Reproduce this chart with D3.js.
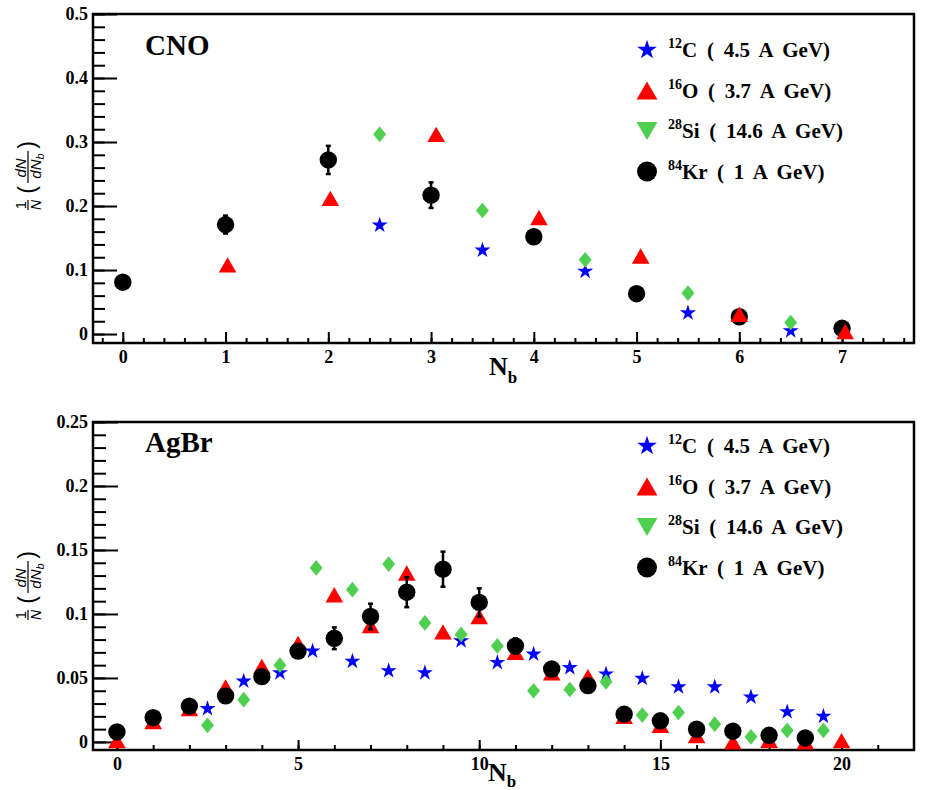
<!DOCTYPE html>
<html><head><meta charset="utf-8">
<script src="https://cdn.jsdelivr.net/npm/d3@7"></script>
<style>body{margin:0;background:#fff}</style>
</head><body><svg id="c" width="930" height="790"></svg>
<script>
// ---------- data ----------
const legendIso = ["12", "16", "28", "84"];
const legendText = ["C ( 4.5 A GeV)", "O ( 3.7 A GeV)", "Si ( 14.6 A GeV)", "Kr ( 1 A GeV)"];
const panelNames = ["CNO", "AgBr"];

// CNO panel
const cnoXTicks = [0, 1, 2, 3, 4, 5, 6, 7];
const cnoXTickLabels = ["0", "1", "2", "3", "4", "5", "6", "7"];
const cnoYTicks = [0, 0.1, 0.2, 0.3, 0.4, 0.5];
const cnoYTickLabels = ["0", "0.1", "0.2", "0.3", "0.4", "0.5"];

const cnoC_x = [2.5, 3.5, 4.5, 5.5, 6.5];
const cnoC_y = [0.170, 0.131, 0.098, 0.033, 0.005];
const cnoO_x = [1.02, 2.02, 3.05, 4.05, 5.04, 6.0, 7.03];
const cnoO_y = [0.108, 0.212, 0.312, 0.182, 0.122, 0.031, 0.004];
const cnoSi_x = [2.5, 3.5, 4.5, 5.5, 6.5];
const cnoSi_y = [0.312, 0.193, 0.116, 0.064, 0.018];
const cnoKr_x = [0, 1, 2, 3, 4, 5, 6, 7];
const cnoKr_y = [0.081, 0.171, 0.272, 0.217, 0.152, 0.063, 0.027, 0.009];
const cnoKr_err = [0.005, 0.014, 0.022, 0.020, 0.010, 0.005, 0.005, 0.003];

// AgBr panel
const agbrXTicks = [0, 5, 10, 15, 20];
const agbrXTickLabels = ["0", "5", "10", "15", "20"];
const agbrYTicks = [0, 0.05, 0.1, 0.15, 0.2, 0.25];
const agbrYTickLabels = ["0", "0.05", "0.1", "0.15", "0.2", "0.25"];

const agbrC_x = [2.5, 3.5, 4.5, 5.4, 6.5, 7.5, 8.5, 9.5, 10.5, 11.5, 12.5, 13.5, 14.5, 15.5, 16.5, 17.5, 18.5, 19.5];
const agbrC_y = [0.026, 0.0475, 0.054, 0.071, 0.063, 0.0556, 0.054, 0.079, 0.062, 0.0686, 0.058, 0.053, 0.0496, 0.043, 0.043, 0.035, 0.0235, 0.020];
const agbrO_x = [0, 1, 2, 3, 4, 5, 6, 7, 8, 9, 10, 11, 12, 13, 14, 15, 16, 17, 18, 19, 20];
const agbrO_y = [0.001, 0.016, 0.026, 0.043, 0.059, 0.077, 0.115, 0.091, 0.132, 0.086, 0.098, 0.070, 0.054, 0.051, 0.020, 0.013, 0.005, 0.0, 0.0013, 0.0, 0.001];
const agbrSi_x = [2.5, 3.5, 4.5, 5.5, 6.5, 7.5, 8.5, 9.5, 10.5, 11.5, 12.5, 13.5, 14.5, 15.5, 16.5, 17.5, 18.5, 19.5];
const agbrSi_y = [0.013, 0.033, 0.060, 0.136, 0.119, 0.139, 0.093, 0.084, 0.075, 0.040, 0.041, 0.047, 0.021, 0.023, 0.0139, 0.004, 0.009, 0.009];
const agbrKr_x = [0, 1, 2, 3, 4, 5, 6, 7, 8, 9, 10, 11, 12, 13, 14, 15, 16, 17, 18, 19];
const agbrKr_y = [0.0078, 0.019, 0.028, 0.036, 0.051, 0.071, 0.081, 0.098, 0.117, 0.135, 0.109, 0.075, 0.057, 0.044, 0.0217, 0.0165, 0.0099, 0.0084, 0.0052, 0.0031];
const agbrKr_err = [0.002, 0.002, 0.003, 0.003, 0.004, 0.005, 0.0085, 0.010, 0.0117, 0.0137, 0.011, 0.006, 0.004, 0.003, 0.003, 0.002, 0.002, 0.002, 0.002, 0.002];

// ---------- styles ----------
const colC = "#0000ff", colO = "#ff0000", colSi = "#4fcf4f", colKr = "#000000";
const SERIF = '"Liberation Serif"';
const SANS = '"Liberation Sans"';

const svg = d3.select("#c");

// custom symbol shapes
const diamondSym = { draw(ctx, size) { const h = Math.sqrt(size) * 0.62, w = h * 0.82; ctx.moveTo(0, -h); ctx.lineTo(w, 0); ctx.lineTo(0, h); ctx.lineTo(-w, 0); ctx.closePath(); } };
const triUpSym = { draw(ctx, size) { const s = Math.sqrt(size); const w = s * 0.55, h = s * 0.48; ctx.moveTo(0, -h); ctx.lineTo(w, h); ctx.lineTo(-w, h); ctx.closePath(); } };
const triDownSym = { draw(ctx, size) { const s = Math.sqrt(size); const w = s * 0.55, h = s * 0.48; ctx.moveTo(0, h); ctx.lineTo(w, -h); ctx.lineTo(-w, -h); ctx.closePath(); } };

function sym(type, size) { return d3.symbol().type(type).size(size)(); }
function serifBold(sel, size) { return sel.attr("font-family", SERIF).attr("font-weight", "bold").attr("font-size", size).attr("fill", "#000"); }

function drawPanel(cfg) {
  const g = svg.append("g");
  const x = d3.scaleLinear().domain(cfg.xDom).range([cfg.left, cfg.right]);
  const y = d3.scaleLinear().domain(cfg.yDom).range([cfg.bottom, cfg.top]);

  // minor ticks
  const yMinor = d3.axisLeft(y).tickValues(cfg.yMinor).tickSizeInner(-cfg.yMinorLen).tickSizeOuter(0).tickFormat("");
  g.append("g").attr("transform", `translate(${cfg.left},0)`).call(yMinor)
    .call(a => a.select(".domain").remove())
    .call(a => a.selectAll("line").attr("stroke", "#000").attr("stroke-width", 2));
  const xMinor = d3.axisBottom(x).tickValues(cfg.xMinor).tickSizeInner(-cfg.xMinorLen).tickSizeOuter(0).tickFormat("");
  g.append("g").attr("transform", `translate(0,${cfg.bottom})`).call(xMinor)
    .call(a => a.select(".domain").remove())
    .call(a => a.selectAll("line").attr("stroke", "#000").attr("stroke-width", 2));

  // major ticks
  const yAxis = d3.axisLeft(y).tickValues(cfg.yTicks).tickSizeInner(-cfg.yMajorLen).tickSizeOuter(0).tickPadding(5)
    .tickFormat((d, i) => cfg.yLabels[i]);
  g.append("g").attr("transform", `translate(${cfg.left},0)`).call(yAxis)
    .call(a => a.select(".domain").remove())
    .call(a => a.selectAll("line").attr("stroke", "#000").attr("stroke-width", 2))
    .call(a => serifBold(a.selectAll("text"), 18));
  const xAxis = d3.axisBottom(x).tickValues(cfg.xTicks).tickSizeInner(-cfg.xMajorLen).tickSizeOuter(0).tickPadding(7)
    .tickFormat((d, i) => cfg.xLabels[i]);
  g.append("g").attr("transform", `translate(0,${cfg.bottom})`).call(xAxis)
    .call(a => a.select(".domain").remove())
    .call(a => a.selectAll("line").attr("stroke", "#000").attr("stroke-width", 2))
    .call(a => serifBold(a.selectAll("text"), 18));

  // frame
  g.append("rect").attr("x", cfg.left).attr("y", cfg.top).attr("width", cfg.right - cfg.left).attr("height", cfg.bottom - cfg.top)
    .attr("fill", "none").attr("stroke", "#000").attr("stroke-width", 2.5);

  // panel name
  serifBold(g.append("text"), 29).attr("x", cfg.left + 52).attr("y", cfg.top + cfg.nameDy).text(cfg.name);

  // x title
  const xt = serifBold(g.append("text"), 26).attr("x", cfg.xTitleX).attr("y", cfg.bottom + cfg.xTitleDy);
  xt.append("tspan").text("N");
  xt.append("tspan").attr("dy", cfg.subDy).attr("font-size", 17).text("b");

  // y title: 1/N (dN/dN_b)
  const yt = g.append("g").attr("transform", `translate(28,${cfg.yTitleCy}) rotate(-90)`);
  const ytxt = sel => sel.attr("font-family", SANS).attr("font-style", "italic").attr("font-size", 14).attr("text-anchor", "middle");
  ytxt(yt.append("text")).attr("x", -28).attr("y", -2).attr("font-style", "normal").text("1");
  yt.append("line").attr("x1", -33).attr("x2", -23).attr("y1", 0).attr("y2", 0).attr("stroke", "#000").attr("stroke-width", 1.2);
  ytxt(yt.append("text")).attr("x", -28).attr("y", 13).text("N");
  ytxt(yt.append("text")).attr("x", -13).attr("y", 7).attr("font-style", "normal").attr("font-size", 23).text("(");
  ytxt(yt.append("text")).attr("x", 9).attr("y", -2).attr("font-size", 15).text("dN");
  yt.append("line").attr("x1", -6).attr("x2", 26).attr("y1", 0).attr("y2", 0).attr("stroke", "#000").attr("stroke-width", 1.2);
  const den = ytxt(yt.append("text")).attr("x", 11).attr("y", 13).attr("font-size", 15);
  den.append("tspan").text("dN");
  den.append("tspan").attr("dy", 3).attr("font-size", 11).text("b");
  ytxt(yt.append("text")).attr("x", 32).attr("y", 7).attr("font-style", "normal").attr("font-size", 23).text(")");

  // data
  const S = cfg.series;
  const kr = S.kx.map((v, i) => [v, S.ky[i], S.ke[i]]);
  const drawC = () => g.append("g").selectAll("path").data(S.cx.map((v, i) => [v, S.cy[i]])).join("path")
    .attr("transform", d => `translate(${x(d[0])},${y(d[1])})`)
    .attr("d", sym(d3.symbolStar, 80)).attr("fill", colC);
  const drawO = () => g.append("g").selectAll("path").data(S.ox.map((v, i) => [v, S.oy[i]])).join("path")
    .attr("transform", d => `translate(${x(d[0])},${y(d[1])})`)
    .attr("d", sym(triUpSym, 256)).attr("fill", colO);
  const drawSi = () => g.append("g").selectAll("path").data(S.sx.map((v, i) => [v, S.sy[i]])).join("path")
    .attr("transform", d => `translate(${x(d[0])},${y(d[1])})`)
    .attr("d", sym(diamondSym, 160)).attr("fill", colSi);
  const drawKr = () => {
    const eg = g.append("g").attr("stroke", colKr).attr("stroke-width", 2.5);
    eg.selectAll("line.e").data(kr).join("line").attr("class", "e")
      .attr("x1", d => x(d[0])).attr("x2", d => x(d[0]))
      .attr("y1", d => y(d[1] - d[2])).attr("y2", d => y(d[1] + d[2]));
    eg.selectAll("line.t").data(kr).join("line").attr("class", "t")
      .attr("x1", d => x(d[0]) - 2.5).attr("x2", d => x(d[0]) + 2.5)
      .attr("y1", d => y(d[1] + d[2])).attr("y2", d => y(d[1] + d[2]));
    eg.selectAll("line.b").data(kr).join("line").attr("class", "b")
      .attr("x1", d => x(d[0]) - 2.5).attr("x2", d => x(d[0]) + 2.5)
      .attr("y1", d => y(d[1] - d[2])).attr("y2", d => y(d[1] - d[2]));
    g.append("g").selectAll("circle").data(kr).join("circle")
      .attr("cx", d => x(d[0])).attr("cy", d => y(d[1])).attr("r", 8.7).attr("fill", colKr);
  };
  const order = { C: drawC, O: drawO, Si: drawSi, Kr: drawKr };
  cfg.order.forEach(k => order[k]());

  // legend
  const shapes = [
    { d: sym(d3.symbolStar, 120), c: colC },
    { d: sym(triUpSym, 360), c: colO },
    { d: sym(triDownSym, 360), c: colSi },
    { d: null, c: colKr }
  ];
  legendText.forEach((t, i) => {
    const cy = cfg.legTop + i * 40.5;
    if (shapes[i].d) {
      g.append("path").attr("transform", `translate(647,${cy})`).attr("d", shapes[i].d).attr("fill", shapes[i].c);
    } else {
      g.append("circle").attr("cx", 647).attr("cy", cy).attr("r", 10).attr("fill", colKr);
    }
    const tx = serifBold(g.append("text"), 21).attr("x", 668).attr("y", cy + 7).attr("word-spacing", 4.5);
    tx.append("tspan").attr("dy", -9).attr("font-size", 14).text(legendIso[i]);
    tx.append("tspan").attr("dy", 9).text(t);
  });
}

drawPanel({
  name: panelNames[0], left: 93, right: 914, top: 14, bottom: 343,
  xDom: [-0.29, 7.7], yDom: [-0.014, 0.5],
  xTicks: cnoXTicks, xLabels: cnoXTickLabels, yTicks: cnoYTicks, yLabels: cnoYTickLabels,
  xMinor: d3.range(-0.2, 7.7, 0.2), yMinor: d3.range(0, 0.501, 0.02),
  yMajorLen: 24, yMinorLen: 12, xMajorLen: 11, xMinorLen: 5,
  nameDy: 41, xTitleX: 489, xTitleDy: 32, subDy: 8, yTitleCy: 177, legTop: 50,
  order: ["Kr", "C", "Si", "O"],
  series: { cx: cnoC_x, cy: cnoC_y, ox: cnoO_x, oy: cnoO_y, sx: cnoSi_x, sy: cnoSi_y, kx: cnoKr_x, ky: cnoKr_y, ke: cnoKr_err }
});

drawPanel({
  name: panelNames[1], left: 93, right: 914, top: 422, bottom: 750,
  xDom: [-0.66, 22.0], yDom: [-0.0063, 0.25],
  xTicks: agbrXTicks, xLabels: agbrXTickLabels, yTicks: agbrYTicks, yLabels: agbrYTickLabels,
  xMinor: d3.range(0, 21.5, 1), yMinor: d3.range(0, 0.2501, 0.01),
  yMajorLen: 25, yMinorLen: 13, xMajorLen: 10, xMinorLen: 5,
  nameDy: 30, xTitleX: 488, xTitleDy: 31, subDy: 6, yTitleCy: 587, legTop: 446,
  order: ["C", "O", "Si", "Kr"],
  series: { cx: agbrC_x, cy: agbrC_y, ox: agbrO_x, oy: agbrO_y, sx: agbrSi_x, sy: agbrSi_y, kx: agbrKr_x, ky: agbrKr_y, ke: agbrKr_err }
});
</script>
</body></html>
